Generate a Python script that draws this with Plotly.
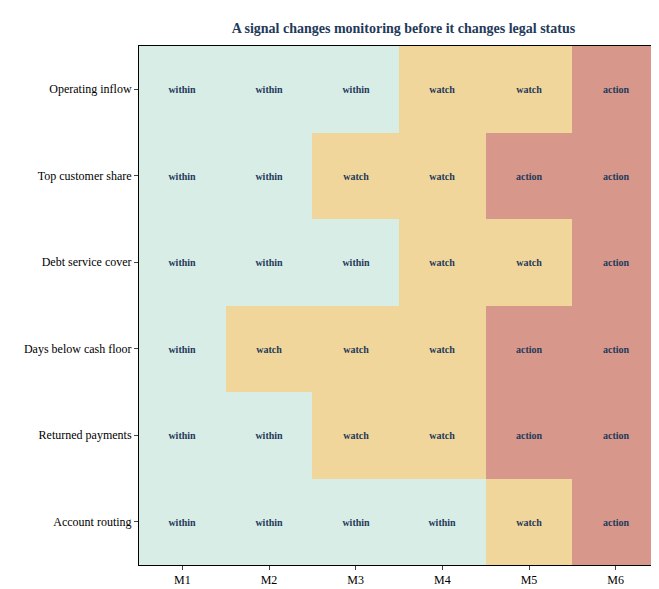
import plotly.graph_objects as go

months = ["M1", "M2", "M3", "M4", "M5", "M6"]
signals = ["Account routing", "Returned payments", "Days below cash floor",
           "Debt service cover", "Top customer share", "Operating inflow"]
status = [
    ["within", "within", "within", "within", "watch", "action"],
    ["within", "within", "watch", "watch", "action", "action"],
    ["within", "watch", "watch", "watch", "action", "action"],
    ["within", "within", "within", "watch", "watch", "action"],
    ["within", "within", "watch", "watch", "action", "action"],
    ["within", "within", "within", "watch", "watch", "action"],
]
levels = {"within": 0, "watch": 1, "action": 2}
z = [[levels[s] for s in row] for row in status]

fig = go.Figure(go.Heatmap(
    z=z, x=months, y=signals, text=status, texttemplate="<b>%{text}</b>",
    textfont=dict(size=10, color="#1f3a5a", family="Liberation Serif"),
    zmin=0, zmax=2, showscale=False, hoverinfo="skip",
    colorscale=[[0, "#d9ede7"], [0.333, "#d9ede7"], [0.333, "#f1d69b"],
                [0.667, "#f1d69b"], [0.667, "#d7978b"], [1, "#d7978b"]],
))
fig.update_layout(
    width=659, height=589,
    margin=dict(l=131, r=8, t=38, b=32),
    paper_bgcolor="white", plot_bgcolor="white",
    font=dict(family="Liberation Serif", size=12, color="black"),
    title=dict(text="<b>A signal changes monitoring before it changes legal status</b>",
               x=0.6, xanchor="center", y=0.975, font=dict(size=14, color="#1f3a5a")),
)
fig.update_xaxes(showline=True, linecolor="black", mirror=True, ticks="outside", ticklen=4)
fig.update_yaxes(showline=True, linecolor="black", mirror=True, ticks="outside", ticklen=4)
fig.write_html("out.html")
